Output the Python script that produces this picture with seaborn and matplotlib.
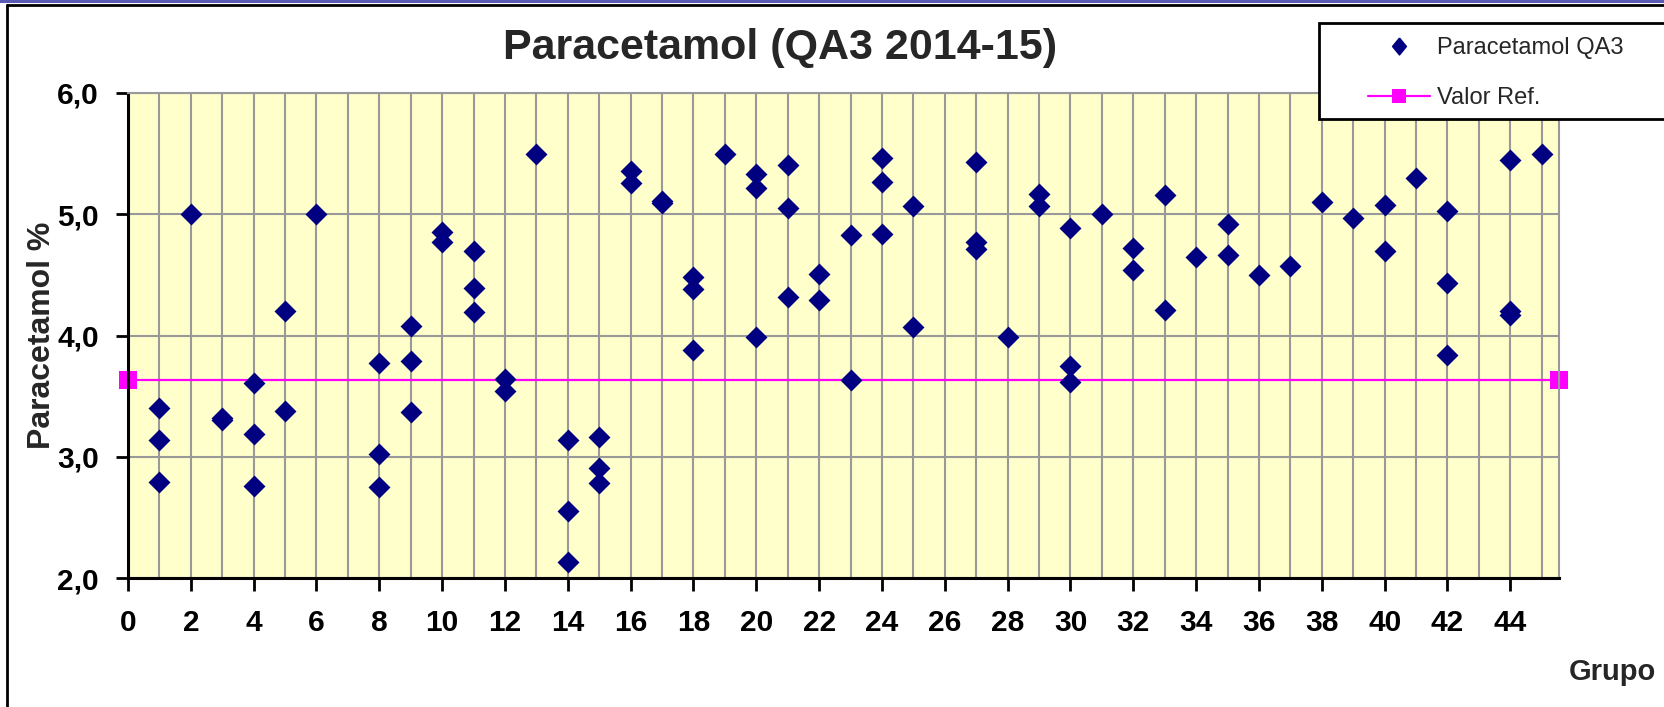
import matplotlib
matplotlib.use("Agg")
import matplotlib.pyplot as plt
from matplotlib.lines import Line2D
from matplotlib.patches import Rectangle
import pandas as pd
import seaborn as sns

# Paracetamol QA3 2014-15: results per group
grupo = [1, 1, 1, 2, 3, 3, 4, 4, 4, 5, 5, 6,
         8, 8, 8, 9, 9, 9, 10, 10, 11, 11, 11, 12, 12, 13,
         14, 14, 14, 15, 15, 15, 16, 16, 17, 17, 18, 18, 18, 19,
         20, 20, 20, 21, 21, 21, 22, 22, 23, 23, 24, 24, 24, 25, 25,
         27, 27, 27, 28, 29, 29, 30, 30, 30, 31, 32, 32, 33, 33, 34,
         35, 35, 36, 37, 38, 39, 40, 40, 41, 42, 42, 42, 44, 44, 44, 45]
paracetamol = [3.40, 3.14, 2.79, 5.00, 3.32, 3.30, 3.61, 3.19, 2.76, 4.20, 3.38, 5.00,
               3.77, 3.02, 2.75, 4.08, 3.79, 3.37, 4.85, 4.77, 4.70, 4.39, 4.19, 3.64, 3.54, 5.50,
               3.14, 2.55, 2.13, 3.16, 2.91, 2.78, 5.36, 5.26, 5.11, 5.09, 4.48, 4.38, 3.88, 5.50,
               5.33, 5.22, 3.99, 5.41, 5.05, 4.32, 4.51, 4.29, 4.83, 3.63, 5.46, 5.27, 4.84, 5.07, 4.07,
               5.43, 4.77, 4.71, 3.99, 5.17, 5.07, 4.89, 3.75, 3.62, 5.00, 4.72, 4.54, 5.16, 4.21, 4.65,
               4.92, 4.66, 4.50, 4.57, 5.10, 4.97, 5.08, 4.70, 5.30, 5.03, 4.43, 3.84, 5.45, 4.20, 4.17, 5.50]

valor_ref = 3.63
ref_x = [0, 45.55]

x_ticks = list(range(0, 45, 2))
y_ticks = [2, 3, 4, 5, 6]
y_labels = ["2,0", "3,0", "4,0", "5,0", "6,0"]

NAVY = "#000080"
MAGENTA = "#FF00FF"
GRID = "#999999"

sns.set_style("white")
plt.rcParams["font.family"] = ["Liberation Sans", "DejaVu Sans"]

W, H = 1664, 707
fig = plt.figure(figsize=(W / 100, H / 100), dpi=100)
ax = fig.add_axes([128 / W, 1 - 578 / H, (1559 - 128) / W, (578 - 93) / H])
ax.set_facecolor("#FFFFCC")

df = pd.DataFrame({"Grupo": grupo, "Paracetamol": paracetamol})
ref = pd.DataFrame({"x": ref_x, "y": [valor_ref] * len(ref_x)})

sns.lineplot(data=ref, x="x", y="y", ax=ax, color=MAGENTA, linewidth=1.6,
             marker="s", markersize=13, markeredgewidth=0, clip_on=False, zorder=2)
sns.scatterplot(data=df, x="Grupo", y="Paracetamol", ax=ax, marker="D", s=125,
                color=NAVY, edgecolor=NAVY, linewidth=0, zorder=3, legend=False)

ax.set_xlim(0, ref_x[-1])
ax.set_ylim(2, 6)
ax.set_xticks(x_ticks)
ax.set_xticklabels([str(t) for t in x_ticks], fontsize=21.5, fontweight="bold")
ax.set_xticks(range(1, 46, 2), minor=True)
ax.set_yticks(y_ticks)
ax.set_yticklabels(y_labels, fontsize=21.5, fontweight="bold")
ax.set_xlabel("")
ax.set_ylabel("")

ax.set_axisbelow(True)
ax.grid(True, which="both", axis="x", color=GRID, linewidth=1.5)
ax.grid(True, which="major", axis="y", color=GRID, linewidth=1.5)

ax.tick_params(axis="x", which="major", direction="out", length=9, width=2,
               pad=13, colors="black", bottom=True)
ax.tick_params(axis="x", which="minor", length=0)
ax.tick_params(axis="y", which="major", direction="out", length=9, width=2,
               pad=12, colors="black", left=True)

for side in ["left", "bottom"]:
    ax.spines[side].set_color("black")
    ax.spines[side].set_linewidth(2.2)
for side in ["top", "right"]:
    ax.spines[side].set_color(GRID)
    ax.spines[side].set_linewidth(1.5)

fig.text(780 / W, 1 - 48 / H, "Paracetamol (QA3 2014-15)", ha="center", va="center",
         fontsize=31, fontweight="bold")
fig.text(42 / W, 1 - 335 / H, "Paracetamol %", ha="center", va="center",
         rotation=90, fontsize=23, fontweight="bold")
fig.text(1612 / W, 1 - 672 / H, "Grupo", ha="center", va="center",
         fontsize=21, fontweight="bold")

# legend box, running off the right edge like the original slide
fig.add_artist(Rectangle((1319 / W, 1 - 119 / H), (1700 - 1319) / W, 96 / H,
                         transform=fig.transFigure, facecolor="white",
                         edgecolor="black", linewidth=2, zorder=4))
diamond = [(0, 1), (0.82, 0), (0, -1), (-0.82, 0), (0, 1)]
handles = [
    Line2D([], [], linestyle="none", marker=diamond, markersize=12.2, color=NAVY),
    Line2D([], [], color=MAGENTA, linewidth=1.6, marker="s", markersize=10,
           markeredgewidth=0),
]
fig.legend(handles, ["Paracetamol QA3", "Valor Ref."], loc="upper left",
           bbox_to_anchor=(1368 / W, 1 - 37 / H), frameon=False, fontsize=17,
           handlelength=2.63, handletextpad=0.3, labelspacing=1.2,
           borderpad=0, borderaxespad=0)

# slide frame: coloured band at the top, black border lines
fig.add_artist(Rectangle((0, 1 - 3 / H), 1, 3 / H, transform=fig.transFigure,
                         facecolor="#5B5BB5", edgecolor="none", zorder=6))
fig.add_artist(Line2D([7 / W, 1], [1 - 5 / H, 1 - 5 / H], transform=fig.transFigure,
                      color="black", linewidth=2, zorder=6))
fig.add_artist(Line2D([7 / W, 7 / W], [0, 1 - 5 / H], transform=fig.transFigure,
                      color="black", linewidth=2, zorder=6))

fig.savefig("out.png", dpi=100)
